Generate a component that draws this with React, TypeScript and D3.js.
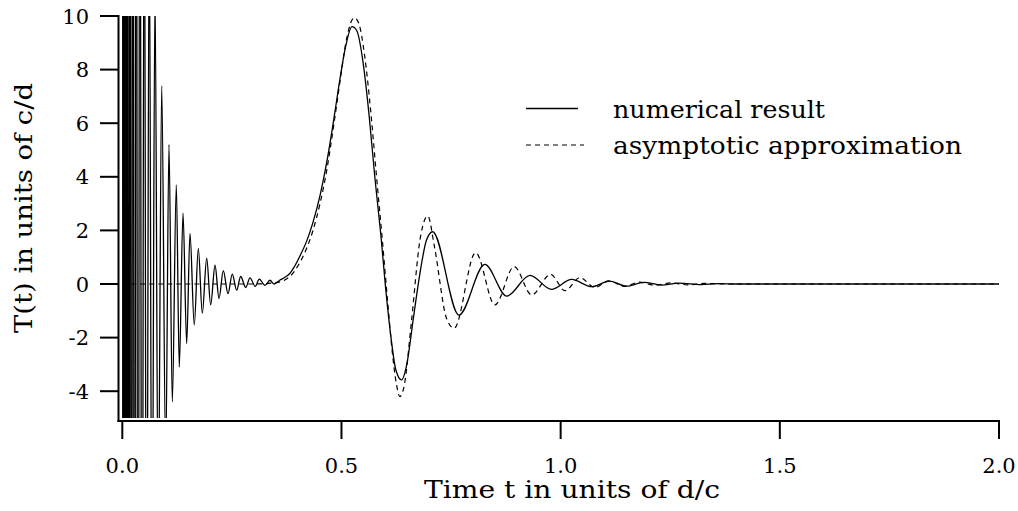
import React from "react";
import * as d3 from "d3";

// Numerical result: extrema / sample points (t in d/c, T in c/d)
const tNum = [
  0.0002, 0.0016, 0.0032, 0.005, 0.0071, 0.0094, 0.0119, 0.0146, 0.0176, 0.0208,
  0.0242, 0.0278, 0.0317, 0.0358, 0.0401, 0.0449, 0.05, 0.0554, 0.0614, 0.0677,
  0.0746, 0.0819, 0.0899, 0.099, 0.1065, 0.1141, 0.1232, 0.13, 0.1385, 0.1469,
  0.1544, 0.1642, 0.1734, 0.1825, 0.1925, 0.2016, 0.2115, 0.2206, 0.2304, 0.2411,
  0.2509, 0.2609, 0.2701, 0.2815, 0.2913, 0.3034, 0.3125, 0.3255, 0.3369, 0.346,
  0.3597, 0.3711, 0.3825, 0.3916, 0.4053, 0.4206, 0.435, 0.451, 0.467, 0.483,
  0.497, 0.51, 0.524, 0.535, 0.549, 0.563, 0.576, 0.59, 0.601, 0.613,
  0.624, 0.637, 0.649, 0.6635, 0.679, 0.694, 0.708, 0.768, 0.827, 0.877,
  0.93, 0.979, 1.025, 1.071, 1.112, 1.15, 1.19, 1.23, 1.27, 1.32,
  1.36, 1.4, 2.0,
];
const vNum = [
  115, -105, 95, -85, 76, -68, 60, -54, 48, -43,
  38, -34, 30, -26, 23, -20, 18, -16, 14, -12,
  11, -9, 7.4, -6.5, 5.2, -4.4, 3.7, -3.1, 2.64, -2.22,
  1.89, -1.53, 1.33, -1.09, 0.96, -0.78, 0.7, -0.54, 0.5, -0.36,
  0.37, -0.23, 0.28, -0.13, 0.23, -0.09, 0.18, -0.05, 0.14, 0.0,
  0.15, 0.25, 0.4, 0.62, 1.05, 1.6, 2.3, 3.3, 4.6, 6.2,
  7.7, 8.9, 9.6, 9.45, 8.3, 6.3, 4.0, 1.8, -0.2, -2.0,
  -3.2, -3.58, -3.0, -1.34, 0.4, 1.64, 1.95, -1.16, 0.73, -0.45,
  0.32, -0.2, 0.17, -0.1, 0.11, -0.08, 0.06, -0.04, 0.03, -0.02,
  0.015, 0, 0,
];

// Asymptotic approximation
const tAsy = [
  0.0, 0.3, 0.35, 0.38, 0.405, 0.435, 0.451, 0.467, 0.483, 0.497,
  0.51, 0.524, 0.53, 0.54, 0.553, 0.567, 0.58, 0.594, 0.605, 0.615,
  0.625, 0.633, 0.643, 0.66, 0.679, 0.697, 0.712, 0.74, 0.757, 0.806,
  0.85, 0.894, 0.934, 0.977, 1.01, 1.044, 1.078, 1.11, 1.145, 1.18,
  1.215, 1.25, 1.29, 1.33, 1.38, 2.0,
];
const vAsy = [
  0, 0, 0.05, 0.25, 0.8, 2.0, 3.0, 4.3, 6.0, 7.6,
  9.0, 9.85, 9.93, 9.7, 8.5, 6.4, 4.0, 1.5, -0.6, -2.4,
  -3.7, -4.2, -3.8, -1.34, 1.64, 2.54, 1.4, -1.3, -1.65, 1.17,
  -0.78, 0.65, -0.41, 0.36, -0.25, 0.24, -0.13, 0.12, -0.09, 0.07,
  -0.05, 0.04, -0.03, 0.02, 0, 0,
];

const xTicks = [0, 0.5, 1.0, 1.5, 2.0];
const xTickLabels = ["0.0", "0.5", "1.0", "1.5", "2.0"];
const yTicks = [-4, -2, 0, 2, 4, 6, 8, 10];
const yTickLabels = ["-4", "-2", "0", "2", "4", "6", "8", "10"];

const seriesNames = ["numerical result", "asymptotic approximation"];
const xTitle = "Time t in units of d/c";
const yTitle = "T(t) in units of c/d";

const FONT = "DejaVu Serif, serif";

export default function App() {
  const W = 1018;
  const H = 511;
  const x = d3.scaleLinear().domain([0, 2]).range([122.3, 999]);
  const y = d3.scaleLinear().domain([-5, 10]).range([418, 16]);

  const numPts = tNum.map((t, i) => [t, vNum[i]] as [number, number]);
  const asyPts = tAsy.map((t, i) => [t, vAsy[i]] as [number, number]);

  const line = d3
    .line<[number, number]>()
    .x((d) => x(d[0]))
    .y((d) => y(d[1]))
    .curve(d3.curveMonotoneX);

  const axisX = 118.5;
  const axisY = 421;

  return (
    <svg
      width={W}
      height={H}
      viewBox={`0 0 ${W} ${H}`}
      style={{ position: "absolute", left: 0, top: 0, background: "#fff" }}
    >
      <defs>
        <clipPath id="plotClip">
          <rect x={120} y={y(10)} width={x(2) - 120 + 2} height={y(-5) - y(10)} />
        </clipPath>
      </defs>
      <rect x={0} y={0} width={W} height={H} fill="#fff" />

      {/* data */}
      <g clipPath="url(#plotClip)">
        <path d={line(asyPts) || ""} fill="none" stroke="#000" strokeWidth={1.2} strokeDasharray="5,4" />
        <path d={line(numPts) || ""} fill="none" stroke="#000" strokeWidth={1.3} />
      </g>

      {/* axes frame */}
      <line x1={axisX} y1={15} x2={axisX} y2={axisY + 1} stroke="#000" strokeWidth={2} />
      <line x1={axisX - 1} y1={axisY} x2={x(2) + 1} y2={axisY} stroke="#000" strokeWidth={2} />

      {/* y ticks */}
      {yTicks.map((v, i) => (
        <g key={"yt" + i}>
          <line x1={100} x2={axisX} y1={y(v)} y2={y(v)} stroke="#000" strokeWidth={2} />
          <text x={89} y={y(v) + 7.5} textAnchor="end" fontFamily={FONT} fontSize={21} fill="#000">
            {yTickLabels[i]}
          </text>
        </g>
      ))}

      {/* x ticks */}
      {xTicks.map((v, i) => (
        <g key={"xt" + i}>
          <line x1={x(v)} x2={x(v)} y1={axisY} y2={439} stroke="#000" strokeWidth={2} />
          <text x={x(v)} y={473} textAnchor="middle" fontFamily={FONT} fontSize={21} fill="#000">
            {xTickLabels[i]}
          </text>
        </g>
      ))}

      {/* axis titles */}
      <text
        x={572}
        y={498}
        textAnchor="middle"
        fontFamily={FONT}
        fontSize={24}
        fill="#000"
        textLength={296}
        lengthAdjust="spacingAndGlyphs"
      >
        {xTitle}
      </text>
      <text
        transform="translate(32,208) rotate(-90)"
        textAnchor="middle"
        fontFamily={FONT}
        fontSize={24}
        fill="#000"
        textLength={250}
        lengthAdjust="spacingAndGlyphs"
      >
        {yTitle}
      </text>

      {/* legend */}
      <line x1={526} x2={578} y1={108.5} y2={108.5} stroke="#000" strokeWidth={1.3} />
      <line x1={526} x2={584} y1={145} y2={145} stroke="#000" strokeWidth={1.2} strokeDasharray="5,4" />
      <text x={613} y={118} fontFamily={FONT} fontSize={25} fill="#000" textLength={212} lengthAdjust="spacingAndGlyphs">
        {seriesNames[0]}
      </text>
      <text x={613} y={154} fontFamily={FONT} fontSize={25} fill="#000" textLength={349} lengthAdjust="spacingAndGlyphs">
        {seriesNames[1]}
      </text>
    </svg>
  );
}
